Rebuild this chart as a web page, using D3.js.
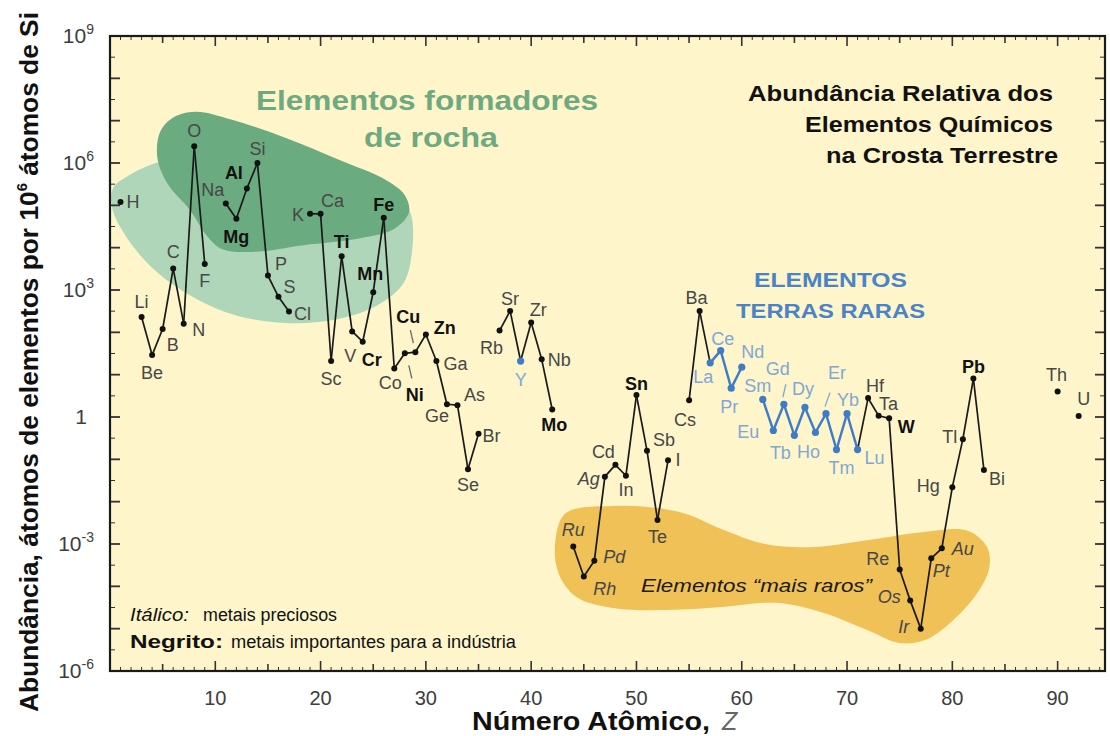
<!DOCTYPE html>
<html>
<head>
<meta charset="utf-8">
<script src="https://cdn.jsdelivr.net/npm/d3@7"></script>
<style>
  body { margin: 0; background: #ffffff; }
  svg { display: block; font-family: "Liberation Sans", Arial, sans-serif; }
</style>
</head>
<body>
<svg id="chart" width="1110" height="736"></svg>
<script>
// Element symbols, atomic numbers and crustal abundance (atoms per 10^6 atoms of Si)
const symbols = ["H","Li","Be","B","C","N","O","F","Na","Mg","Al","Si","P","S","Cl",
  "K","Ca","Sc","Ti","V","Cr","Mn","Fe","Co","Ni","Cu","Zn","Ga","Ge","As","Se","Br",
  "Rb","Sr","Y","Zr","Nb","Mo","Ru","Rh","Pd","Ag","Cd","In","Sn","Sb","Te","I",
  "Cs","Ba","La","Ce","Pr","Nd","Sm","Eu","Gd","Tb","Dy","Ho","Er","Tm","Yb","Lu",
  "Hf","Ta","W","Re","Os","Ir","Pt","Au","Hg","Tl","Pb","Bi","Th","U"];
const atomicNumbers = [1,3,4,5,6,7,8,9,11,12,13,14,15,16,17,
  19,20,21,22,23,24,25,26,27,28,29,30,31,32,33,34,35,
  37,38,39,40,41,42,44,45,46,47,48,49,50,51,52,53,
  55,56,57,58,59,60,62,63,64,65,66,67,68,69,70,71,
  72,73,74,75,76,77,78,79,80,81,82,83,90,92];
const abundance = [1.2e5,230,29,120,3200,160,2.5e6,4100,1.1e5,4.8e4,2.5e5,1.0e6,2200,690,310,
  6.3e4,6.3e4,21,6300,105,60,890,5.1e4,14,32,34,89,21,2.0,1.9,0.058,0.40,
  110,320,21,170,23,1.5,8.7e-4,1.7e-4,4.0e-4,0.039,0.074,0.041,3.3,0.16,0.0037,0.095,
  2.5,320,19,37,4.8,15,2.6,0.48,2.0,0.37,1.7,0.43,1.2,0.17,1.2,0.17,
  2.8,1.07,0.93,2.5e-4,4.6e-5,1.0e-5,4.6e-4,7.9e-4,0.022,0.30,8.1,0.056,4.0,1.05];

const boldSymbols = ["Mg","Al","Ti","Cr","Mn","Fe","Ni","Cu","Zn","Mo","Sn","W","Pb"];
const italicSymbols = ["Ru","Rh","Pd","Ag","Os","Ir","Pt","Au"];
const lanthanides = ["La","Ce","Pr","Nd","Sm","Eu","Gd","Tb","Dy","Ho","Er","Tm","Yb","Lu"];
const blueSymbols = ["Y"].concat(lanthanides);

const xTickValues = [10,20,30,40,50,60,70,80,90];
const yTickExponents = [9,6,3,0,-3,-6];

// Shaded groupings, outlined as [Z, log10(abundance)] vertices
const rockOuter = [[0.3,5.41],[1.7,5.69],[3.8,5.95],[6.2,6.12],[10.5,6.17],[17.1,5.88],
  [23.7,5.55],[27.5,5.22],[28.6,4.77],[28.7,3.95],[27.9,3.17],[25.6,2.67],[21.8,2.32],
  [16.7,2.22],[11.6,2.43],[7.2,2.93],[3.8,3.57],[1.3,4.35],[0.2,4.94]];
const rockCore = [[4.75,6.73],[5.9,7.06],[8.1,7.21],[11.6,7.02],[16.7,6.59],[21.8,6.07],
  [26.2,5.60],[28.0,5.24],[28.4,4.84],[27.1,4.46],[23.5,4.21],[18.4,4.06],[13.5,3.90],
  [10.6,3.97],[9.2,4.28],[7.6,4.89],[5.5,5.50],[4.5,6.12]];
const rarest = [[42.3,-2.91],[43.3,-2.27],[47.8,-2.10],[54.0,-2.24],[58.1,-2.65],[62.2,-3.00],
  [66.8,-3.07],[71.9,-2.91],[77.1,-2.72],[81.5,-2.69],[83.3,-3.07],[83.5,-3.57],[82.3,-4.18],
  [79.9,-4.84],[77.4,-5.27],[75.0,-5.34],[71.9,-5.03],[67.8,-4.63],[63.3,-4.39],[58.1,-4.49],
  [52.9,-4.56],[47.8,-4.51],[44.3,-4.25],[42.6,-3.69]];

// Label placement: [anchor, dx, dy] relative to each point
const labelPlacement = {
  H:["start",6,0], Li:["middle",0,-16], Be:["middle",0,17], B:["middle",10,16],
  C:["middle",0,-17], N:["middle",15,6], O:["middle",0,-16], F:["middle",0,16],
  Na:["middle",-13,-14], Mg:["middle",0,18], Al:["middle",-13,-16], Si:["middle",0,-14],
  P:["middle",13,-12], S:["middle",11,-10], Cl:["start",5,2], K:["end",-6,1],
  Ca:["middle",12,-13], Sc:["middle",0,17], Ti:["middle",0,-15], V:["middle",-2,24],
  Cr:["middle",9,18], Mn:["middle",-3,-19], Fe:["middle",0,-13], Co:["middle",-4,14],
  Ni:["middle",10,41], Cu:["middle",-7,-36], Zn:["middle",19,-7], Ga:["start",7,2],
  Ge:["middle",-10,11], As:["middle",17,-11], Se:["middle",0,15], Br:["start",4,2],
  Rb:["middle",-8,17], Sr:["middle",0,-12], Y:["middle",0,18], Zr:["middle",7,-13],
  Nb:["start",6,0], Mo:["middle",2,15], Ru:["middle",0,-17], Rh:["middle",21,12],
  Pd:["middle",20,-4], Ag:["end",-5,2], Cd:["middle",-12,-13], In:["middle",0,14],
  Sn:["middle",0,-12], Sb:["middle",17,-11], Te:["middle",0,17], I:["middle",10,-1],
  Cs:["middle",-4,19], Ba:["middle",-3,-13], La:["middle",-7,14], Ce:["middle",2,-12],
  Pr:["middle",-2,18], Nd:["middle",11,-16], Sm:["middle",-5,-14], Eu:["middle",-25,1],
  Gd:["middle",-6,-36], Tb:["middle",-14,17], Dy:["middle",-2,-19], Ho:["middle",-7,19],
  Er:["middle",11,-41], Tm:["middle",5,18], Yb:["middle",1,-14], Lu:["middle",17,8],
  Hf:["middle",7,-13], Ta:["middle",10,-12], W:["middle",17,8], Re:["middle",-22,-11],
  Os:["middle",-21,-4], Ir:["middle",-17,-2], Pt:["middle",10,12], Au:["middle",21,0],
  Hg:["middle",-24,-2], Tl:["middle",-13,-3], Pb:["middle",0,-12], Bi:["middle",13,9],
  Th:["middle",-1,-17], U:["middle",5,-18]
};
// Leader strokes joining a few crowded labels to their points: [symbol, x1, y1, x2, y2]
const leaders = [["Cu",-5,-22,-2,-9],["Ni",4,12,7,25],["Gd",2,-20,-1,-7],["Er",4,-21,-1,-7]];

const COLORS = {
  plotBg: "#fef5cb", outer: "#afd6b8", core: "#6bab80", rare: "#efc156",
  line: "#1a1a1a", blue: "#3f7cc8", blueLabel: "#7ea7d8", label: "#474747",
  green: "#6ea97f", title: "#111111"
};

const svg = d3.select("#chart");
const x = d3.scaleLinear().domain([0, 94.5]).range([110, 1105]);
const y = d3.scaleLog().domain([1e-6, 1e9]).range([671, 36]);
const yl = v => y(Math.pow(10, v));

const points = symbols.map((s, i) => ({ s, z: atomicNumbers[i], v: abundance[i] }));
const bySym = Object.fromEntries(points.map(p => [p.s, p]));

// plot area
svg.append("rect").attr("x", x(0)).attr("y", y(1e9))
  .attr("width", x(94.5) - x(0)).attr("height", y(1e-6) - y(1e9))
  .attr("fill", COLORS.plotBg);

// shaded groupings
const blob = d3.line().x(d => x(d[0])).y(d => yl(d[1])).curve(d3.curveCatmullRomClosed.alpha(0.5));
svg.append("path").attr("d", blob(rockOuter)).attr("fill", COLORS.outer);
svg.append("path").attr("d", blob(rockCore)).attr("fill", COLORS.core);
svg.append("path").attr("d", blob(rarest)).attr("fill", COLORS.rare);

// ticks on all four sides, pointing inwards
const ticks = svg.append("g").attr("stroke", "#333");
const yTop = y(1e9), yBot = y(1e-6), xL = x(0), xR = x(94.5);
for (let z = 1; z <= 94; z++) {
  const len = z % 10 === 0 ? 10 : (z % 5 === 0 ? 7 : 4);
  const w = z % 5 === 0 ? 1.6 : 1;
  ticks.append("line").attr("x1", x(z)).attr("x2", x(z)).attr("y1", yBot).attr("y2", yBot - len).attr("stroke-width", w);
  ticks.append("line").attr("x1", x(z)).attr("x2", x(z)).attr("y1", yTop).attr("y2", yTop + len).attr("stroke-width", w);
}
for (let e = -6; e <= 9; e++) {
  if (e > -6 && e < 9) {
    ticks.append("line").attr("x1", xL).attr("x2", xL + 10).attr("y1", yl(e)).attr("y2", yl(e)).attr("stroke-width", 1.8);
    ticks.append("line").attr("x1", xR).attr("x2", xR - 10).attr("y1", yl(e)).attr("y2", yl(e)).attr("stroke-width", 1.8);
  }
  if (e < 9) {
    ticks.append("line").attr("x1", xL).attr("x2", xL + 5).attr("y1", yl(e + 0.5)).attr("y2", yl(e + 0.5)).attr("stroke-width", 1);
    ticks.append("line").attr("x1", xR).attr("x2", xR - 5).attr("y1", yl(e + 0.5)).attr("y2", yl(e + 0.5)).attr("stroke-width", 1);
  }
}

// frame
svg.append("rect").attr("x", xL).attr("y", yTop).attr("width", xR - xL).attr("height", yBot - yTop)
  .attr("fill", "none").attr("stroke", "#1a1a1a").attr("stroke-width", 2.2);

// tick labels
svg.append("g").selectAll("text").data(xTickValues).join("text")
  .attr("x", d => x(d)).attr("y", 705).attr("text-anchor", "middle")
  .attr("font-size", 20).attr("fill", "#3d3d3d").text(d => d);

const yLab = svg.append("g").attr("fill", "#3d3d3d");
yTickExponents.forEach(e => {
  const t = yLab.append("text").attr("y", yl(e) + 7).attr("font-size", 21).attr("text-anchor", "end");
  if (e === 0) {
    t.attr("x", 87).text("1");
  } else {
    t.attr("x", 94);
    t.append("tspan").text("10");
    t.append("tspan").attr("dy", -9).attr("font-size", 14).text(e < 0 ? "-" + (-e) : e);
  }
});

// connecting lines between consecutive elements
const segs = [];
for (let i = 1; i < points.length; i++) {
  const a = points[i - 1], b = points[i];
  if (b.z - a.z === 1) segs.push([a, b]);
}
const isBlueSeg = d => lanthanides.includes(d[0].s) && lanthanides.includes(d[1].s);
svg.append("g").selectAll("line").data(segs).join("line")
  .attr("x1", d => x(d[0].z)).attr("y1", d => y(d[0].v))
  .attr("x2", d => x(d[1].z)).attr("y2", d => y(d[1].v))
  .attr("stroke", d => isBlueSeg(d) ? COLORS.blue : COLORS.line)
  .attr("stroke-width", d => isBlueSeg(d) ? 2.4 : 1.7);

// leader strokes
svg.append("g").selectAll("line").data(leaders).join("line")
  .attr("x1", d => x(bySym[d[0]].z) + d[1]).attr("y1", d => y(bySym[d[0]].v) + d[2])
  .attr("x2", d => x(bySym[d[0]].z) + d[3]).attr("y2", d => y(bySym[d[0]].v) + d[4])
  .attr("stroke", d => blueSymbols.includes(d[0]) ? COLORS.blueLabel : "#666").attr("stroke-width", 1.3);

// points
svg.append("g").selectAll("circle").data(points).join("circle")
  .attr("cx", d => x(d.z)).attr("cy", d => y(d.v))
  .attr("r", d => blueSymbols.includes(d.s) ? 3.6 : 3)
  .attr("fill", d => blueSymbols.includes(d.s) ? COLORS.blue : "#111");

// element labels
svg.append("g").selectAll("text").data(points).join("text")
  .attr("x", d => x(d.z) + labelPlacement[d.s][1])
  .attr("y", d => y(d.v) + labelPlacement[d.s][2])
  .attr("dy", "0.36em")
  .attr("text-anchor", d => labelPlacement[d.s][0])
  .attr("font-size", 18)
  .attr("font-weight", d => boldSymbols.includes(d.s) ? "bold" : "normal")
  .attr("font-style", d => italicSymbols.includes(d.s) ? "italic" : "normal")
  .attr("fill", d => blueSymbols.includes(d.s) ? COLORS.blueLabel : (boldSymbols.includes(d.s) ? "#111" : COLORS.label))
  .text(d => d.s);

// annotations
function fit(sel, w) { return sel.attr("textLength", w).attr("lengthAdjust", "spacingAndGlyphs"); }

fit(svg.append("text").attr("x", 256).attr("y", 110).attr("font-size", 27).attr("font-weight", "bold")
  .attr("fill", COLORS.green).text("Elementos formadores"), 342);
fit(svg.append("text").attr("x", 364).attr("y", 147).attr("font-size", 27).attr("font-weight", "bold")
  .attr("fill", COLORS.green).text("de rocha"), 134);

const titleLines = [["Abundância Relativa dos", 748, 101, 305], ["Elementos Químicos", 805, 132, 248], ["na Crosta Terrestre", 826, 163, 232]];
titleLines.forEach(t => fit(svg.append("text").attr("x", t[1]).attr("y", t[2]).attr("font-size", 22)
  .attr("font-weight", "bold").attr("fill", COLORS.title).text(t[0]), t[3]));

fit(svg.append("text").attr("x", 754).attr("y", 287).attr("font-size", 21).attr("font-weight", "bold")
  .attr("fill", "#4a84c6").text("ELEMENTOS"), 153);
fit(svg.append("text").attr("x", 736).attr("y", 318).attr("font-size", 21).attr("font-weight", "bold")
  .attr("fill", "#4a84c6").text("TERRAS RARAS"), 189);

fit(svg.append("text").attr("x", 641).attr("y", 592).attr("font-size", 19).attr("font-style", "italic")
  .attr("fill", "#1a1a1a").text("Elementos \u201cmais raros\u201d"), 231);

// legend for the label styles
fit(svg.append("text").attr("x", 130).attr("y", 621).attr("font-size", 18).attr("font-style", "italic")
  .attr("fill", "#111").text("Itálico:"), 59);
fit(svg.append("text").attr("x", 203).attr("y", 621).attr("font-size", 18)
  .attr("fill", "#111").text("metais preciosos"), 134);
fit(svg.append("text").attr("x", 130).attr("y", 648).attr("font-size", 18).attr("font-weight", "bold")
  .attr("fill", "#111").text("Negrito:"), 93);
fit(svg.append("text").attr("x", 231).attr("y", 648).attr("font-size", 18)
  .attr("fill", "#111").text("metais importantes para a indústria"), 285);

// axis titles
fit(svg.append("text").attr("x", 472).attr("y", 730).attr("font-size", 25).attr("font-weight", "bold")
  .attr("fill", "#111").text("Número Atômico,"), 238);
svg.append("text").attr("x", 722).attr("y", 730).attr("font-size", 25).attr("font-style", "italic")
  .attr("fill", "#666").text("Z");

const yTitle = svg.append("text").attr("transform", "translate(38,362) rotate(-90)")
  .attr("text-anchor", "middle").attr("font-size", 25).attr("font-weight", "bold").attr("fill", "#111");
yTitle.append("tspan").text("Abundância, átomos de elementos por 10");
yTitle.append("tspan").attr("dy", -11).attr("font-size", 14).text("6");
yTitle.append("tspan").attr("dy", 11).text(" átomos de Si");
fit(yTitle, 700);
</script>
</body>
</html>
